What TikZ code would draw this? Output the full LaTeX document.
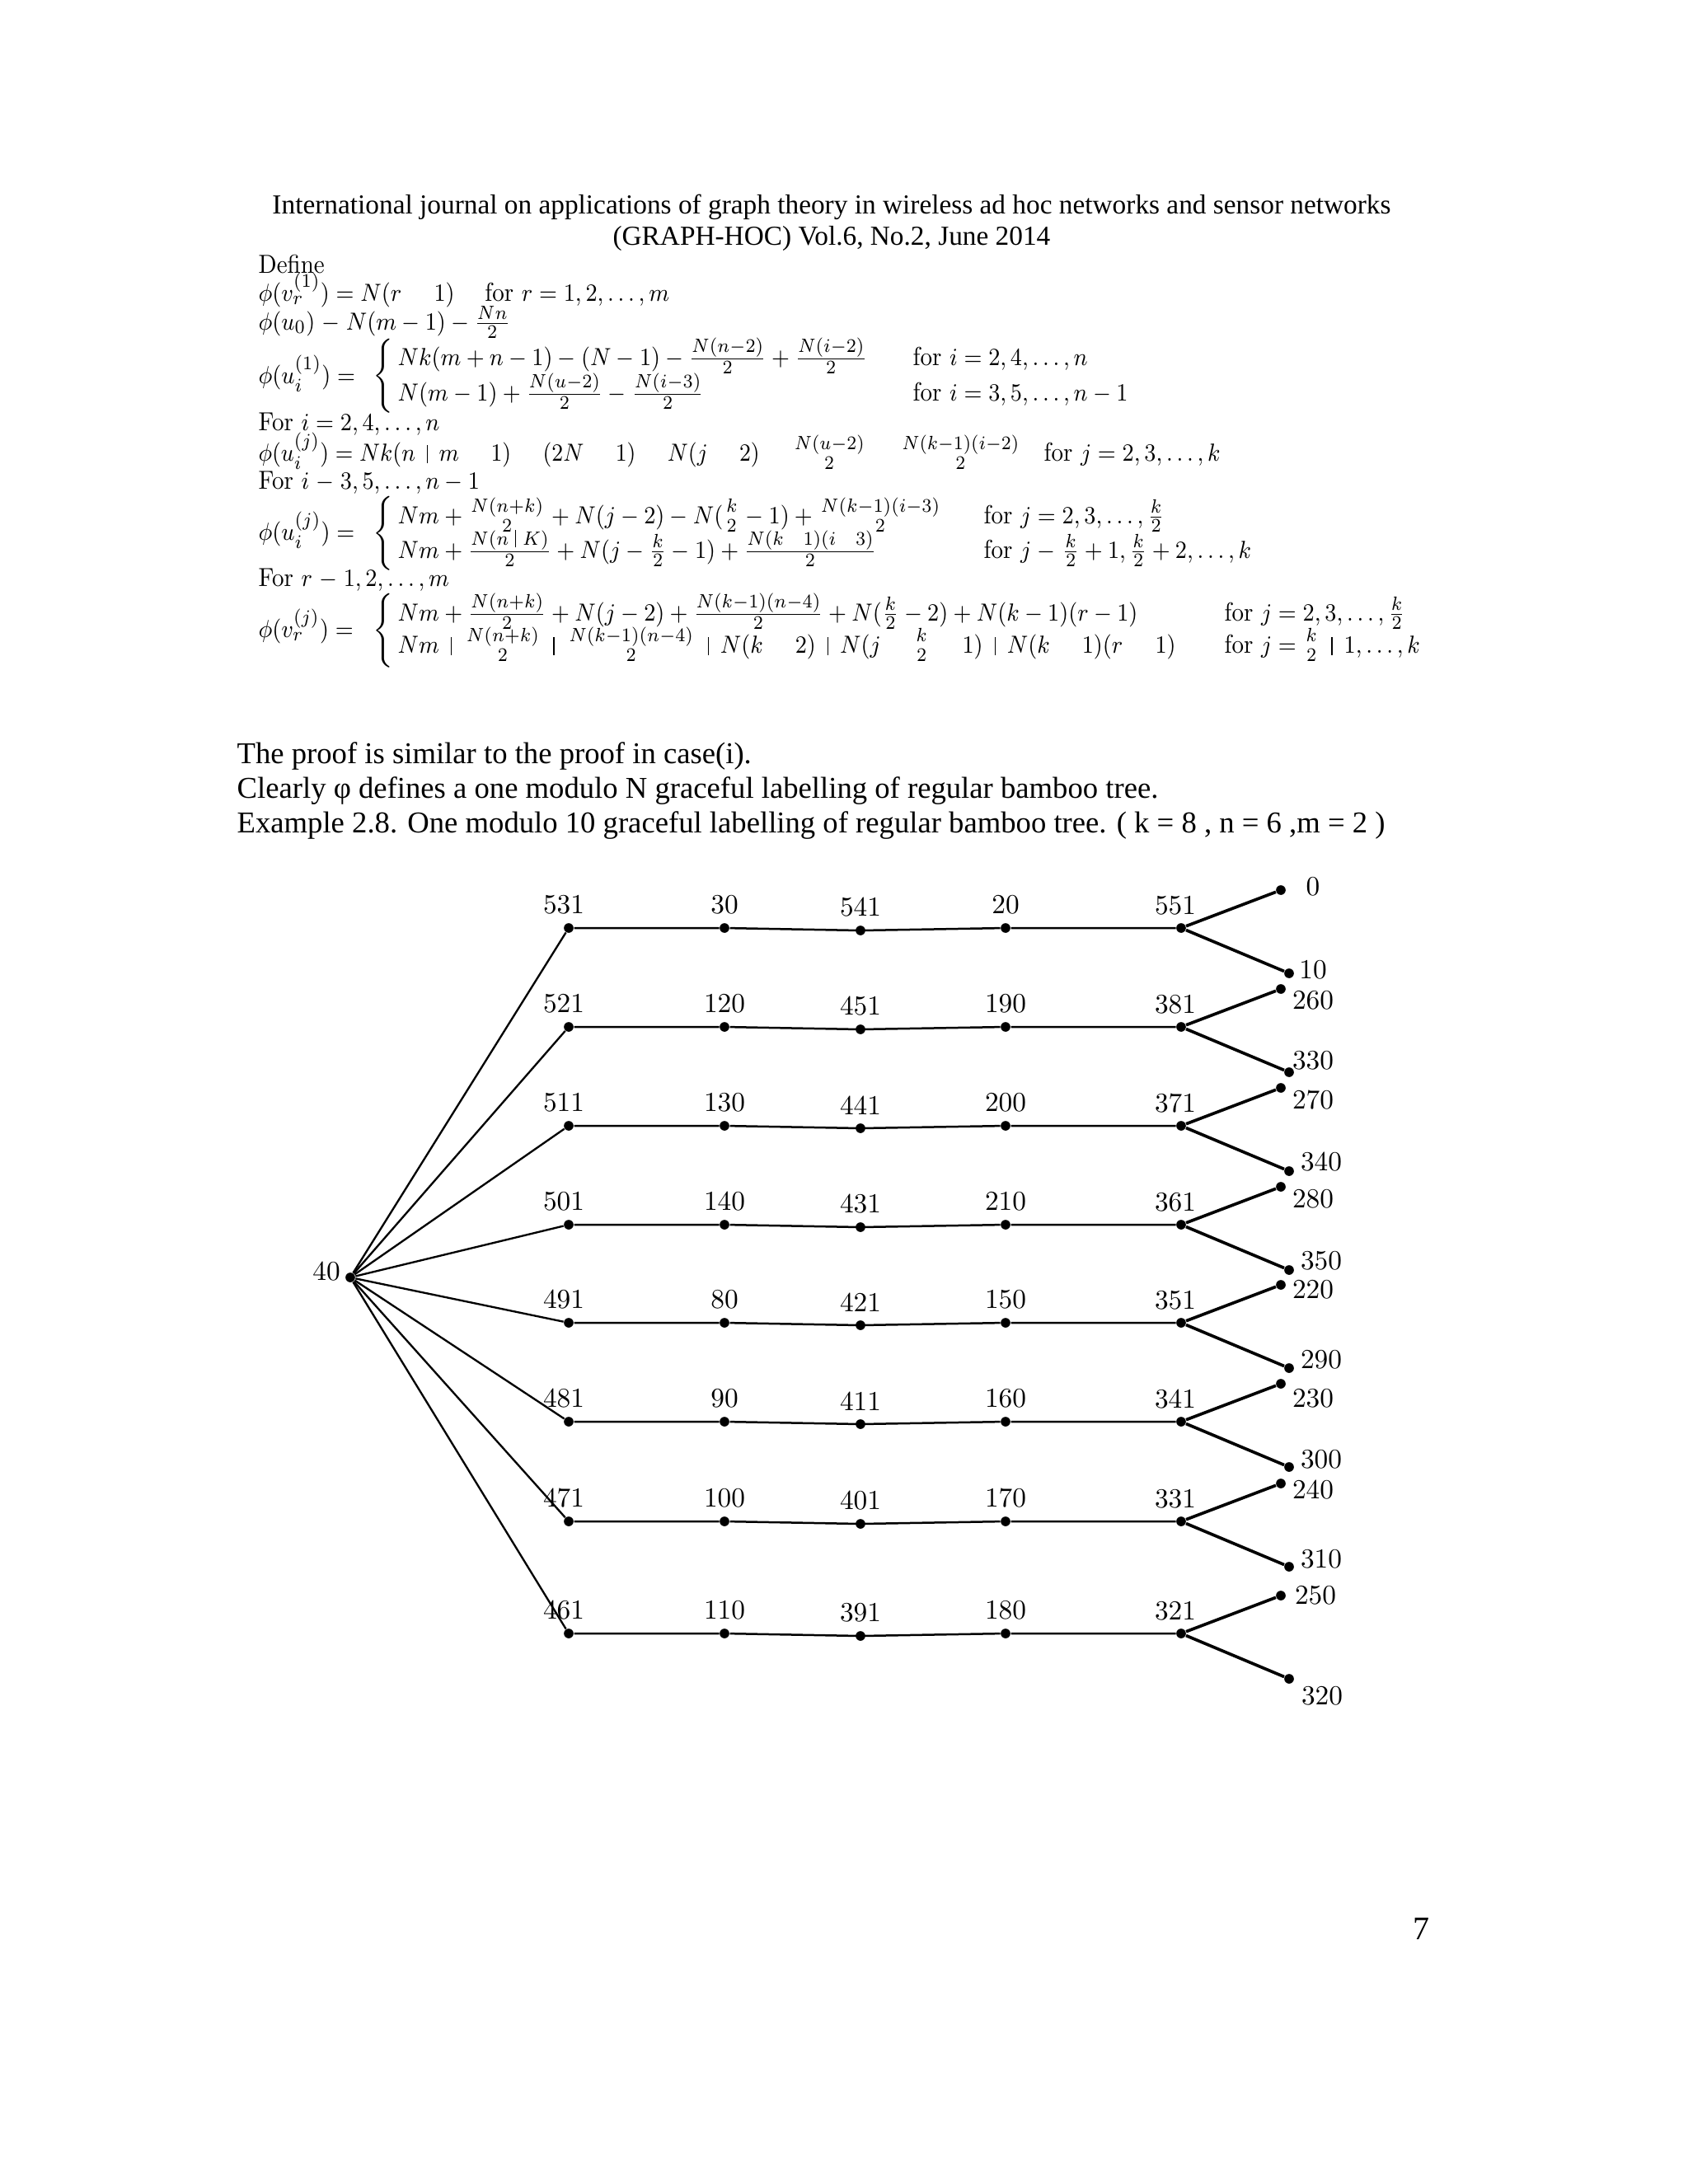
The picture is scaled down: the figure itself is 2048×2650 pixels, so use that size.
\documentclass[tikz,border=0pt]{standalone}
\usepackage{amsmath}
\usepackage{graphicx}
\usepackage{fontspec}
\newfontfamily\tnr{Liberation Serif}
\newcommand\mgap{\mathbin{\hphantom{-}\kern1.5pt}}
\newcommand\pbar{\mathbin{\kern2.5pt\rule[-0.19ex]{0.45pt}{1.55ex}\kern2.5pt}}
\newcommand\nf[2]{\genfrac{}{}{0pt}{1}{#1}{#2}}
\newcommand\fsc[2][0.915]{\scalebox{#1}[1]{#2}}
\begin{document}
\begin{tikzpicture}[x=0.3pt,y=-0.3pt,
  dot/.style={circle,fill=black,inner sep=0pt,minimum size=3.5pt},
  lab/.style={inner sep=0pt,font=\fontsize{10}{12}\selectfont},
  fm/.style={inner sep=0pt,anchor=base west,font=\fontsize{9.5}{11}\selectfont},
  bracenode/.style={inner sep=0pt,anchor=west,font=\fontsize{9.5}{11}\selectfont},
  txt/.style={inner sep=0pt,anchor=base west,font=\tnr\fontsize{11}{13}\selectfont},
  hdr/.style={inner sep=0pt,anchor=base,font=\tnr\fontsize{10}{12}\selectfont},
  spoke/.style={line width=0.7pt},
  rowline/.style={line width=0.75pt},
  twig/.style={line width=1.1pt}]
\fill[white] (0,0) rectangle (2048,2650);
\useasboundingbox (0,0) rectangle (2048,2650);

% header
\node[hdr] (hd1) at (1009,259) {International journal on applications of graph theory in wireless ad hoc networks and sensor networks};
\node[hdr] (hd2) at (1009,297) {(GRAPH-HOC) Vol.6, No.2, June 2014};

% formulas
\node[fm] (def) at (313,331) {\fsc{Define}};
\node[fm] (f1) at (313,365) {\fsc{$\phi(v_r^{(1)})=N(r\mgap 1)\quad\;\text{for }r=1,2,\ldots,m$}};
\node[fm] (f2) at (313,400) {\fsc{$\phi(u_0)\mathrel{-}N(m-1)-\frac{Nn}{2}$}};

\node[fm] (c1l) at (313,465) {\fsc{$\phi(u_i^{(1)})=$}};
\node[bracenode] (c1b) at (452,456) {$\left\{\vcenter{\hbox{\rule{0pt}{24pt}}}\right.$};
\node[fm] (c1r1) at (482,443) {\fsc{$Nk(m+n-1)-(N-1)-\frac{N(n-2)}{2}+\frac{N(i-2)}{2}$}};
\node[fm] (c1f1) at (1107,443) {\fsc{for $i=2,4,\ldots,n$}};
\node[fm] (c1r2) at (482,486) {\fsc{$N(m-1)+\frac{N(u-2)}{2}-\frac{N(i-3)}{2}$}};
\node[fm] (c1f2) at (1107,486) {\fsc{for $i=3,5,\ldots,n-1$}};

\node[fm] (h2) at (313,522) {\fsc{For $i=2,4,\ldots,n$}};
\node[fm] (f3) at (313,559) {\fsc[0.9]{$\phi(u_i^{(j)})=Nk(n\pbar m\mgap 1)\mgap(2N\mgap 1)\mgap N(j\mgap 2)\mgap\nf{N(u-2)}{2}\mgap\nf{N(k-1)(i-2)}{2}$}};
\node[fm] (f3f) at (1266,559) {\fsc{for $j=2,3,\ldots,k$}};
\node[fm] (h3) at (313,593) {\fsc{For $i\mathrel{-}3,5,\ldots,n-1$}};

\node[fm] (c2l) at (313,655) {\fsc{$\phi(u_i^{(j)})=$}};
\node[bracenode] (c2b) at (452,647) {$\left\{\vcenter{\hbox{\rule{0pt}{25pt}}}\right.$};
\node[fm] (c2r1) at (482,635) {\fsc{$Nm+\nf{N(n+k)}{2}+N(j-2)-N(\nf{k}{2}-1)+\nf{N(k-1)(i-3)}{2}$}};
\node[fm] (c2f1) at (1193,635) {\fsc{for $j=2,3,\ldots,\frac{k}{2}$}};
\node[fm] (c2r2) at (482,677) {\fsc{$Nm+\frac{N(n\pbar K)}{2}+N(j-\frac{k}{2}-1)+\frac{N(k\mgap 1)(i\mgap 3)}{2}$}};
\node[fm] (c2f2) at (1193,677) {\fsc{for $j\mathrel{-}\frac{k}{2}+1,\frac{k}{2}+2,\ldots,k$}};

\node[fm] (h4) at (313,711) {\fsc{For $r\mathrel{-}1,2,\ldots,m$}};
\node[fm] (c3l) at (313,773) {\fsc{$\phi(v_r^{(j)})=$}};
\node[bracenode] (c3b) at (452,765) {$\left\{\vcenter{\hbox{\rule{0pt}{26pt}}}\right.$};
\node[fm] (c3r1) at (482,753) {\fsc{$Nm+\frac{N(n+k)}{2}+N(j-2)+\frac{N(k-1)(n-4)}{2}+N(\frac{k}{2}-2)+N(k-1)(r-1)$}};
\node[fm] (c3f1) at (1485,753) {\fsc{for $j=2,3,\ldots,\frac{k}{2}$}};
\node[fm] (c3r2) at (482,792) {\fsc{$Nm\pbar\nf{N(n+k)}{2}\pbar\nf{N(k-1)(n-4)}{2}\pbar N(k\mgap 2)\pbar N(j\mgap\nf{k}{2}\mgap 1)\pbar N(k\mgap 1)(r\mgap 1)$}};
\node[fm] (c3f2) at (1485,792) {\fsc{for $j=\nf{k}{2}\pbar 1,\ldots,k$}};

% body text
\node[txt] (t1) at (287,926) {The proof is similar to the proof in case(i).};
\node[txt] (t2) at (287,968) {Clearly φ defines a one modulo N graceful labelling of regular bamboo tree.};
\node[txt] (t3) at (287,1010) {Example 2.8. One modulo 10 graceful labelling of regular bamboo tree. ( k = 8 , n = 6 ,m = 2 )};

% graph
\node[dot] (root) at (425,1550) {};
\node[lab] (rootl) at (396,1543) {40};
\foreach \i/\y/\a/\b/\c/\d/\e/\u/\ux/\uy/\w/\wx/\wy in {
 1/1126/531/30/541/20/551/0/39/-4/10/29/-4,
 2/1246/521/120/451/190/381/260/39/14/330/29/-14,
 3/1366/511/130/441/200/371/270/39/15/340/39/-11,
 4/1486/501/140/431/210/361/280/39/15/350/39/-11,
 5/1605/491/80/421/150/351/220/39/6/290/39/-10,
 6/1725/481/90/411/160/341/230/39/18/300/39/-9,
 7/1846/471/100/401/170/331/240/39/8/310/39/-9,
 8/1982/461/110/391/180/321/250/42/0/320/40/21}{
  \node[dot] (n\i a) at (690,\y) {};
  \node[dot] (n\i b) at (879,\y) {};
  \node[dot] (n\i c) at ({1044},{\y+3}) {};
  \node[dot] (n\i d) at (1220,\y) {};
  \node[dot] (n\i e) at (1433,\y) {};
  \node[dot] (u\i) at ({1554},{\y-46}) {};
  \node[dot] (w\i) at ({1564},{\y+55}) {};
  \node[lab] (n\i al) at ({684},{\y-28}) {\a};
  \node[lab] (n\i bl) at ({879},{\y-28}) {\b};
  \node[lab] (n\i cl) at ({1044},{\y-25}) {\c};
  \node[lab] (n\i dl) at ({1220},{\y-28}) {\d};
  \node[lab] (n\i el) at ({1426},{\y-27}) {\e};
  \node[lab] (u\i l) at ({1554+\ux},{\y-46+(\uy)}) {\u};
  \node[lab] (w\i l) at ({1564+\wx},{\y+55+(\wy)}) {\w};
  \draw[spoke] (root) -- (n\i a);
  \draw[rowline] (n\i a) -- (n\i b) -- (n\i c.center) -- (n\i d) -- (n\i e);
  \draw[twig] (u\i) -- (n\i e) -- (w\i);
}

% page number
\node[inner sep=0pt,anchor=base,font=\tnr\fontsize{12}{14}\selectfont] (pg) at (1724,2353) {7};
\end{tikzpicture}
\end{document}
